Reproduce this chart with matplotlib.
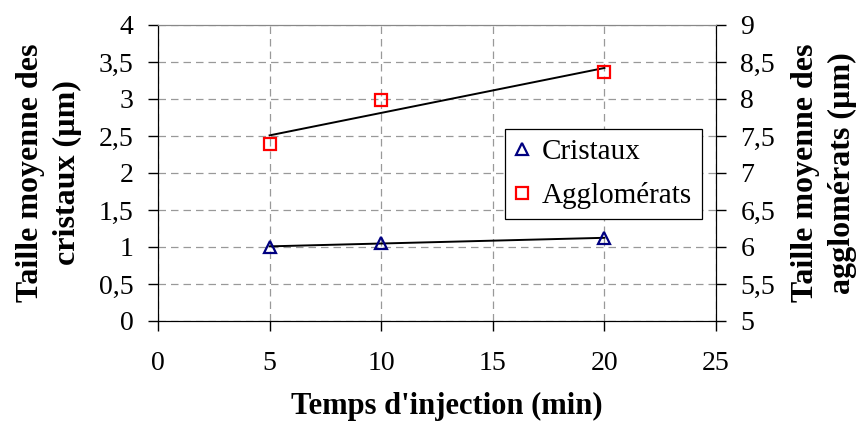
import numpy as np
import matplotlib
matplotlib.use("Agg")
import matplotlib.pyplot as plt

# ── Data ──────────────────────────────────────────────────────
temps = [5, 10, 20]
cristaux = [1.00, 1.06, 1.12]
agglomerats = [7.39, 7.99, 8.36]

x_ticks = [0, 5, 10, 15, 20, 25]
left_ticks = [0, 0.5, 1, 1.5, 2, 2.5, 3, 3.5, 4]
left_labels = ["0", "0,5", "1", "1,5", "2", "2,5", "3", "3,5", "4"]
right_ticks = [5, 5.5, 6, 6.5, 7, 7.5, 8, 8.5, 9]
right_labels = ["5", "5,5", "6", "6,5", "7", "7,5", "8", "8,5", "9"]

plt.rcParams["font.family"] = ["Liberation Serif", "DejaVu Serif"]

W, H = 864, 424
L, R, T, B = 158, 716, 25, 321

fig = plt.figure(figsize=(W / 100, H / 100), dpi=100)
ax = fig.add_axes([L / W, 1 - B / H, (R - L) / W, (B - T) / H])
ax2 = ax.twinx()

# linear trend lines
x_fit = np.array([min(temps), max(temps)])
p1 = np.polyfit(temps, cristaux, 1)
p2 = np.polyfit(temps, agglomerats, 1)
ax.plot(x_fit, np.polyval(p1, x_fit), color="black", lw=1.4, zorder=3)
ax2.plot(x_fit, np.polyval(p2, x_fit), color="black", lw=1.4, zorder=3)

h1, = ax.plot(temps, cristaux, ls="none", marker="^", ms=9, mfc="none",
              mec="#000080", mew=1.6, label="Cristaux", zorder=4)
h2, = ax2.plot(temps, agglomerats, ls="none", marker="s", ms=8, mfc="none",
               mec="red", mew=1.6, label="Agglomérats", zorder=4)

ax.set_xlim(0, 25)
ax.set_ylim(0, 4)
ax2.set_ylim(5, 9)
ax.set_xticks(x_ticks)
ax.set_xticklabels([str(t) for t in x_ticks])
ax.set_yticks(left_ticks)
ax.set_yticklabels(left_labels)
ax2.set_yticks(right_ticks)
ax2.set_yticklabels(right_labels)

ax.grid(True, color="#999999", ls=(0, (6, 4)), lw=0.9)
for a in (ax, ax2):
    a.tick_params(direction="out", length=7.5, width=1, labelsize=20, colors="black")
    a.spines["top"].set_color("#888888")
ax.tick_params(axis="x", pad=14)
ax.tick_params(axis="y", pad=10)
ax2.tick_params(axis="y", pad=10)

ax.set_xlabel("Temps d'injection (min)", fontsize=22, fontweight="bold")
ax.set_ylabel("Taille moyenne des\ncristaux (µm)", fontsize=23, fontweight="bold",
              linespacing=1.35)
ax2.set_ylabel("Taille moyenne des\nagglomérats (µm)", fontsize=23, fontweight="bold",
               linespacing=1.35)
ax.xaxis.set_label_coords((447 - L) / (R - L), (B - 392) / (B - T))
ax.yaxis.set_label_coords((82 - L) / (R - L), 0.5)
ax2.yaxis.set_label_coords((791 - L) / (R - L), 0.5)

leg = ax2.legend(handles=[h1, h2], loc="upper left",
                 bbox_to_anchor=((505 - L) / (R - L), (B - 129) / (B - T)),
                 fontsize=21, frameon=True, fancybox=False, framealpha=1,
                 edgecolor="black", handlelength=0.5, handletextpad=0.45,
                 borderpad=0.32, labelspacing=0.6, borderaxespad=0)
leg.get_frame().set_linewidth(0.9)

plt.savefig("out.png", dpi=100)
